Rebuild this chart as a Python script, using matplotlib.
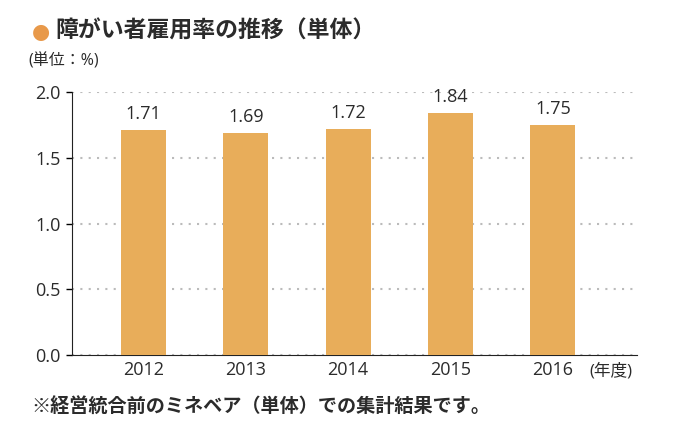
import matplotlib
matplotlib.use('Agg')
import matplotlib.pyplot as plt

plt.rcParams['font.family'] = ['Open Sans', 'Noto Sans CJK JP', 'DejaVu Sans']

years = ['2012', '2013', '2014', '2015', '2016']
rates = [1.71, 1.69, 1.72, 1.84, 1.75]
yticks = [0.0, 0.5, 1.0, 1.5, 2.0]

bar_color = '#E8AD5A'
text_color = '#2B2B2B'

fig = plt.figure(figsize=(6.84, 4.32), dpi=100)
ax = fig.add_axes([0.105, 0.178, 0.826, 0.609])

x = range(len(years))
ax.bar(x, rates, width=0.44, color=bar_color, zorder=3)
for xi, v in zip(x, rates):
    ax.text(xi, v + 0.055, f'{v:.2f}', ha='center', va='bottom',
            fontsize=13, color=text_color)

ax.set_xlim(-0.70, 4.82)
ax.set_ylim(0, 2.0)
ax.set_yticks(yticks)
ax.set_yticklabels([f'{t:.1f}' for t in yticks], fontsize=13, color=text_color)
ax.set_xticks(list(x))
ax.set_xticklabels(years, fontsize=13, color=text_color)
ax.tick_params(axis='x', length=0, pad=4)
ax.tick_params(axis='y', length=4, width=1, direction='out', pad=4)
ax.yaxis.grid(True, linestyle=(0, (1, 3)), color='#BBBBBB', linewidth=1.5, zorder=0)
ax.set_axisbelow(True)
for s in ['top', 'right']:
    ax.spines[s].set_visible(False)
ax.spines['left'].set_color('#222222')
ax.spines['bottom'].set_color('#222222')

fig.text(0.862, 0.140, '(年度)', ha='left', va='center', fontsize=12, color=text_color)

# title
fig.text(0.046, 0.926, '●', ha='left', va='center', fontsize=15, color='#E8994A',
         family='DejaVu Sans')
fig.text(0.081, 0.926, '障がい者雇用率の推移（単体）', ha='left', va='center',
         fontsize=16.5, fontweight='bold', color=text_color)
fig.text(0.042, 0.857, '(単位：%)', ha='left', va='center', fontsize=11.5, color=text_color)

fig.text(0.046, 0.056, '※経営統合前のミネベア（単体）での集計結果です。', ha='left', va='center',
         fontsize=13.8, fontweight='bold', color=text_color)

fig.savefig('out.png', dpi=100)
